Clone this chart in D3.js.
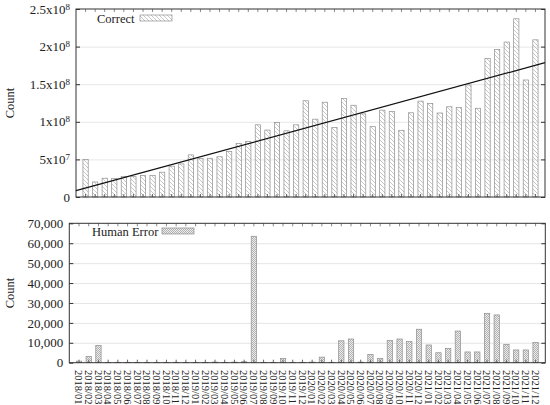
<!DOCTYPE html>
<html><head><meta charset="utf-8">
<script src="https://cdn.jsdelivr.net/npm/d3@7"></script>
<style>
body{margin:0;background:#fff}
svg{display:block}
text{font-family:"Liberation Serif","Times New Roman",serif;fill:#222}
</style>
</head><body><svg id="c" width="550" height="405"></svg>
<script>
const months = ["2018/01","2018/02","2018/03","2018/04","2018/05","2018/06","2018/07","2018/08","2018/09","2018/10","2018/11","2018/12",
"2019/01","2019/02","2019/03","2019/04","2019/05","2019/06","2019/07","2019/08","2019/09","2019/10","2019/11","2019/12",
"2020/01","2020/02","2020/03","2020/04","2020/05","2020/06","2020/07","2020/08","2020/09","2020/10","2020/11","2020/12",
"2021/01","2021/02","2021/03","2021/04","2021/05","2021/06","2021/07","2021/08","2021/09","2021/10","2021/11","2021/12"];

const correct = [5.0e7,2.0e7,2.5e7,2.45e7,2.75e7,2.7e7,2.85e7,2.85e7,3.3e7,4.1e7,4.4e7,5.6e7,
5.1e7,5.15e7,5.35e7,6.05e7,7.1e7,7.4e7,9.6e7,8.9e7,9.9e7,8.8e7,9.6e7,1.28e8,
1.035e8,1.26e8,0.925e8,1.31e8,1.22e8,1.105e8,0.935e8,1.155e8,1.135e8,0.887e8,1.12e8,1.275e8,
1.245e8,1.117e8,1.2e8,1.19e8,1.49e8,1.18e8,1.84e8,1.96e8,2.06e8,2.37e8,1.556e8,2.09e8];

const humanError = [800,3200,8600,100,200,200,100,100,100,100,200,100,
100,100,300,100,300,500,63500,100,100,2200,200,200,
300,2800,200,11000,11900,300,4200,2200,11200,11900,10600,16800,
8900,5000,7200,15900,5400,5400,24800,24000,9200,6400,6400,10200];

// fitted trend line, value at left and right edge of the x range
const trendLine = [{x:-1, y:8.4e6},{x:48, y:1.786e8}];

const topTickValues = [0,5e7,1e8,1.5e8,2e8,2.5e8];
const topTickMantissa = ["0","5x10","1x10","1.5x10","2x10","2.5x10"];
const topTickExponent = ["","7","8","8","8","8"];
const bottomTickValues = [0,10000,20000,30000,40000,50000,60000,70000];
const bottomTickLabels = ["0","10,000","20,000","30,000","40,000","50,000","60,000","70,000"];

const svg = d3.select("#c");
const defs = svg.append("defs");
const hatch = defs.append("pattern").attr("id","hatch").attr("patternUnits","userSpaceOnUse")
  .attr("width",4).attr("height",4);
hatch.append("path").attr("d","M-1,-1L5,5M-1,3L1,5M3,-1L5,1").attr("stroke","#b4b4b4").attr("stroke-width",0.75);
const cross = defs.append("pattern").attr("id","cross").attr("patternUnits","userSpaceOnUse")
  .attr("width",2).attr("height",2);
cross.append("rect").attr("width",2).attr("height",2).attr("fill","#ececec");
cross.append("rect").attr("width",1).attr("height",1).attr("fill","#b2b2b2");
cross.append("rect").attr("x",1).attr("y",1).attr("width",1).attr("height",1).attr("fill","#b2b2b2");

function panel(cfg){
  const {L,R,T,B,values,ymax,tickValues,fill} = cfg;
  const g = svg.append("g");
  const x = d3.scaleBand().domain(months).range([L,R]).paddingInner(0.45).paddingOuter(0.725);
  const y = d3.scaleLinear().domain([0,ymax]).range([B,T]);
  // grid
  g.append("g").attr("transform",`translate(${L},0)`)
    .call(d3.axisLeft(y).tickValues(tickValues.slice(1,-1)).tickSize(-(R-L)).tickFormat(""))
    .call(a=>{a.select(".domain").remove();a.selectAll("line").attr("stroke","#e0e0e0").attr("stroke-width",0.8);});
  // bars
  g.append("g").selectAll("rect").data(values).join("rect")
    .attr("x",(d,i)=>x(months[i])).attr("width",x.bandwidth())
    .attr("y",d=>y(d)).attr("height",d=>B-y(d))
    .attr("fill",`url(#${fill})`).attr("stroke","#8f8f8f").attr("stroke-width",0.7);
  // ticks
  const yl = g.append("g").attr("transform",`translate(${L},0)`)
    .call(d3.axisLeft(y).tickValues(tickValues).tickSize(-4).tickPadding(6));
  yl.select(".domain").remove();
  yl.selectAll("line").attr("stroke","#333");
  yl.selectAll("text").attr("font-size",13).attr("fill","#222").attr("font-family","Liberation Serif");
  const yr = g.append("g").attr("transform",`translate(${R},0)`)
    .call(d3.axisRight(y).tickValues(tickValues).tickSize(-4).tickFormat(""));
  yr.select(".domain").remove(); yr.selectAll("line").attr("stroke","#333");
  const xb = g.append("g").attr("transform",`translate(0,${B})`)
    .call(d3.axisBottom(x).tickSize(-3).tickFormat(""));
  xb.select(".domain").remove(); xb.selectAll("line").attr("stroke","#666");
  const xt = g.append("g").attr("transform",`translate(0,${T})`)
    .call(d3.axisTop(x).tickSize(-3).tickFormat(""));
  xt.select(".domain").remove(); xt.selectAll("line").attr("stroke","#888");
  // frame
  g.append("rect").attr("x",L).attr("y",T).attr("width",R-L).attr("height",B-T)
    .attr("fill","none").attr("stroke","#333").attr("stroke-width",1);
  // y title
  g.append("text").attr("transform",`translate(14,${(T+B)/2}) rotate(-90)`)
    .attr("text-anchor","middle").attr("font-size",12.5).text("Count");
  return {g,x,y,yl};
}

// top panel
const topP = panel({L:76,R:545,T:9,B:197,values:correct,ymax:2.5e8,tickValues:topTickValues,fill:"hatch"});
topP.yl.selectAll("text").each(function(d,i){
  const t = d3.select(this).text("");
  t.append("tspan").text(topTickMantissa[i]);
  if(topTickExponent[i]) t.append("tspan").attr("dy","-0.45em").attr("font-size",9).text(topTickExponent[i]);
});
const xi = d3.scaleLinear().domain([-1,48]).range([76,545]);
topP.g.append("line")
  .attr("x1",xi(trendLine[0].x)).attr("y1",topP.y(trendLine[0].y))
  .attr("x2",xi(trendLine[1].x)).attr("y2",topP.y(trendLine[1].y))
  .attr("stroke","#111").attr("stroke-width",1.2);
topP.g.append("text").attr("x",97).attr("y",23).attr("font-size",12.5).text("Correct");
topP.g.append("rect").attr("x",140).attr("y",15).attr("width",32).attr("height",6)
  .attr("fill","url(#hatch)").attr("stroke","#8f8f8f").attr("stroke-width",0.7);

// bottom panel
const botP = panel({L:69.3,R:545.3,T:223.3,B:362.7,values:humanError,ymax:70000,tickValues:bottomTickValues,fill:"cross"});
botP.yl.selectAll("text").text((d,i)=>bottomTickLabels[i]);
botP.g.append("text").attr("x",92).attr("y",236).attr("font-size",12.5).text("Human Error");
botP.g.append("rect").attr("x",162).attr("y",228).attr("width",32).attr("height",6)
  .attr("fill","url(#cross)").attr("stroke","#8f8f8f").attr("stroke-width",0.7);
botP.g.append("g").selectAll("text").data(months).join("text")
  .attr("transform",d=>`translate(${botP.x(d)+botP.x.bandwidth()/2},370) rotate(90)`)
  .attr("dy","0.35em").attr("font-size",10.5).text(d=>d);
</script></body></html>
